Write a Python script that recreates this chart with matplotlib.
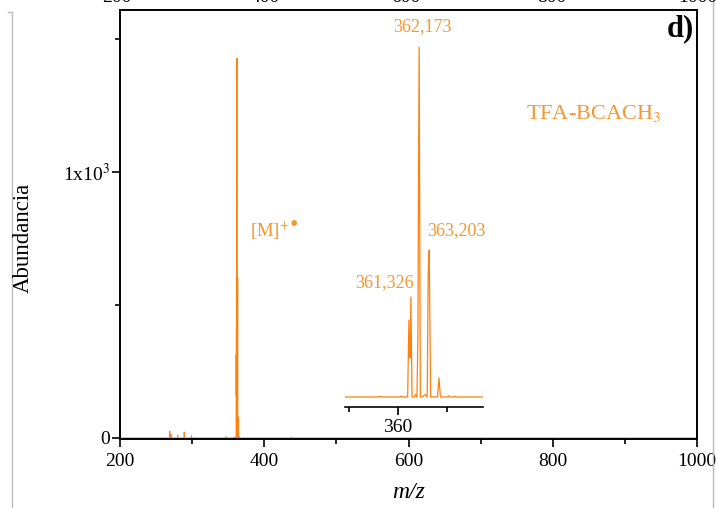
import matplotlib
matplotlib.use("Agg")
import matplotlib.pyplot as plt
from matplotlib.lines import Line2D
from matplotlib.ticker import MultipleLocator, FixedLocator
import numpy as np

# spectrum (m/z, abundance)
mz = [200, 262, 268.6, 269.0, 269.4, 270.2, 270.6, 271.0, 279.6, 280.0, 280.4,
      288.6, 289.0, 289.4, 298.6, 299.0, 299.4, 346.6, 347.0, 347.4,
      357.9, 358.1, 358.3, 360.2, 360.3, 360.4, 361.0, 361.13, 361.2, 361.26,
      361.33, 361.45, 361.7, 361.8, 361.95, 362.05, 362.173, 362.3, 362.5,
      362.8, 363.0, 363.1, 363.203, 363.35, 363.6, 364.05, 364.2, 364.35,
      365.1, 365.2, 365.3, 365.7, 365.8, 365.9, 437.6, 438.0, 438.4, 1000]
ab = [0, 0, 0, 25, 0, 0, 14, 0, 0, 11, 0,
      0, 22, 0, 0, 8, 0, 0, 5, 0,
      0, 3, 0, 0, 3, 0, 0, 314, 163, 160,
      408, 0, 0, 10, 0, 241, 1429, 0, 0,
      10, 0, 506, 600, 0, 0, 0, 78, 0,
      0, 5, 0, 0, 3, 0, 0, 3, 0, 0]

peak_labels = ["362,173", "363,203", "361,326"]
top_labels = ["200", "400", "600", "800", "1000"]

line_c = "#FF8010"
text_c = "#F7962F"

plt.rcParams['font.family'] = ['Liberation Serif', 'DejaVu Serif']
plt.rcParams['mathtext.fontset'] = 'stix'

W, H = 716, 508
fig = plt.figure(figsize=(W / 100, H / 100), dpi=100)


def fx(px):
    return px / W


def fy(py):
    return 1 - py / H


ax = fig.add_axes([fx(120), fy(439), fx(697) - fx(120), fy(10) - fy(439)])
ax.plot(mz, ab, color=line_c, lw=0.7)
ax.set_xlim(200, 1000)
ax.set_ylim(-4, 1610)
ax.xaxis.set_major_locator(MultipleLocator(200))
ax.xaxis.set_minor_locator(MultipleLocator(100))
ax.yaxis.set_major_locator(FixedLocator([0, 1000]))
ax.yaxis.set_minor_locator(FixedLocator([500, 1500]))
ax.set_yticklabels(["0", r"1x10$^3$"])
ax.tick_params(which='major', direction='out', length=6, width=1.2, labelsize=14)
ax.tick_params(axis='y', which='major', pad=1.5)
ax.tick_params(axis='x', which='major', pad=4)
ax.tick_params(which='minor', direction='out', length=3.5, width=1.2)
ax.tick_params(top=False, right=False)
for s in ax.spines.values():
    s.set_linewidth(1.4)

# inset zoom around the molecular ion
ins = fig.add_axes([fx(345), fy(407), fx(483) - fx(345), fy(30) - fy(407)])
ins.set_facecolor('none')
ins.plot(mz, ab, color=line_c, lw=0.9)
ins.set_xlim(354.6, 368.7)
ins.set_ylim(-41, 1499)
for side in ['top', 'right', 'left']:
    ins.spines[side].set_visible(False)
ins.spines['bottom'].set_linewidth(1.2)
ins.set_yticks([])
ins.xaxis.set_major_locator(FixedLocator([360]))
ins.xaxis.set_minor_locator(FixedLocator([355, 365]))
ins.tick_params(which='major', direction='out', length=6, width=1.2, labelsize=14, pad=3)
ins.tick_params(which='minor', direction='out', length=3.5, width=1.2)

# annotations
fig.text(fx(422), fy(27), peak_labels[0], color=text_c, fontsize=13, ha='center', va='center')
fig.text(fx(456), fy(231), peak_labels[1], color=text_c, fontsize=13, ha='center', va='center')
fig.text(fx(384), fy(283), peak_labels[2], color=text_c, fontsize=13, ha='center', va='center')
fig.text(fx(250), fy(231), r"[M]$^{+}$", color=text_c, fontsize=13.5, ha='left', va='center')
fig.text(fx(293.5), fy(226), "\u2022", color=text_c, fontsize=17, ha='center', va='center')
fig.text(fx(526), fy(113), r"TFA-BCACH$_3$", color=text_c, fontsize=16, ha='left', va='center')
fig.text(fx(680), fy(29), "d)", color='black', fontsize=22, fontweight='bold', ha='center', va='center')

fig.text(fx(23), fy(238), "Abundancia", fontsize=16.5, rotation=90, ha='center', va='center')
fig.text(fx(409), fy(492), "m/z", fontsize=17, fontstyle='italic', ha='center', va='center')

# cut-off tick labels of the panel above and panel borders
for lab, px in zip(top_labels, [117, 265, 406, 552, 698]):
    fig.text(fx(px), fy(-2), lab, fontsize=14, ha='center', va='center')
fig.add_artist(Line2D([fx(12), fx(12)], [fy(12), 0], color='#BBBBBB', lw=1))
fig.add_artist(Line2D([fx(8), fx(12)], [fy(12), fy(12)], color='#BBBBBB', lw=1))
fig.add_artist(Line2D([fx(713), fx(713)], [1, 0], color='#BBBBBB', lw=1))

fig.savefig("out.png", dpi=100)
